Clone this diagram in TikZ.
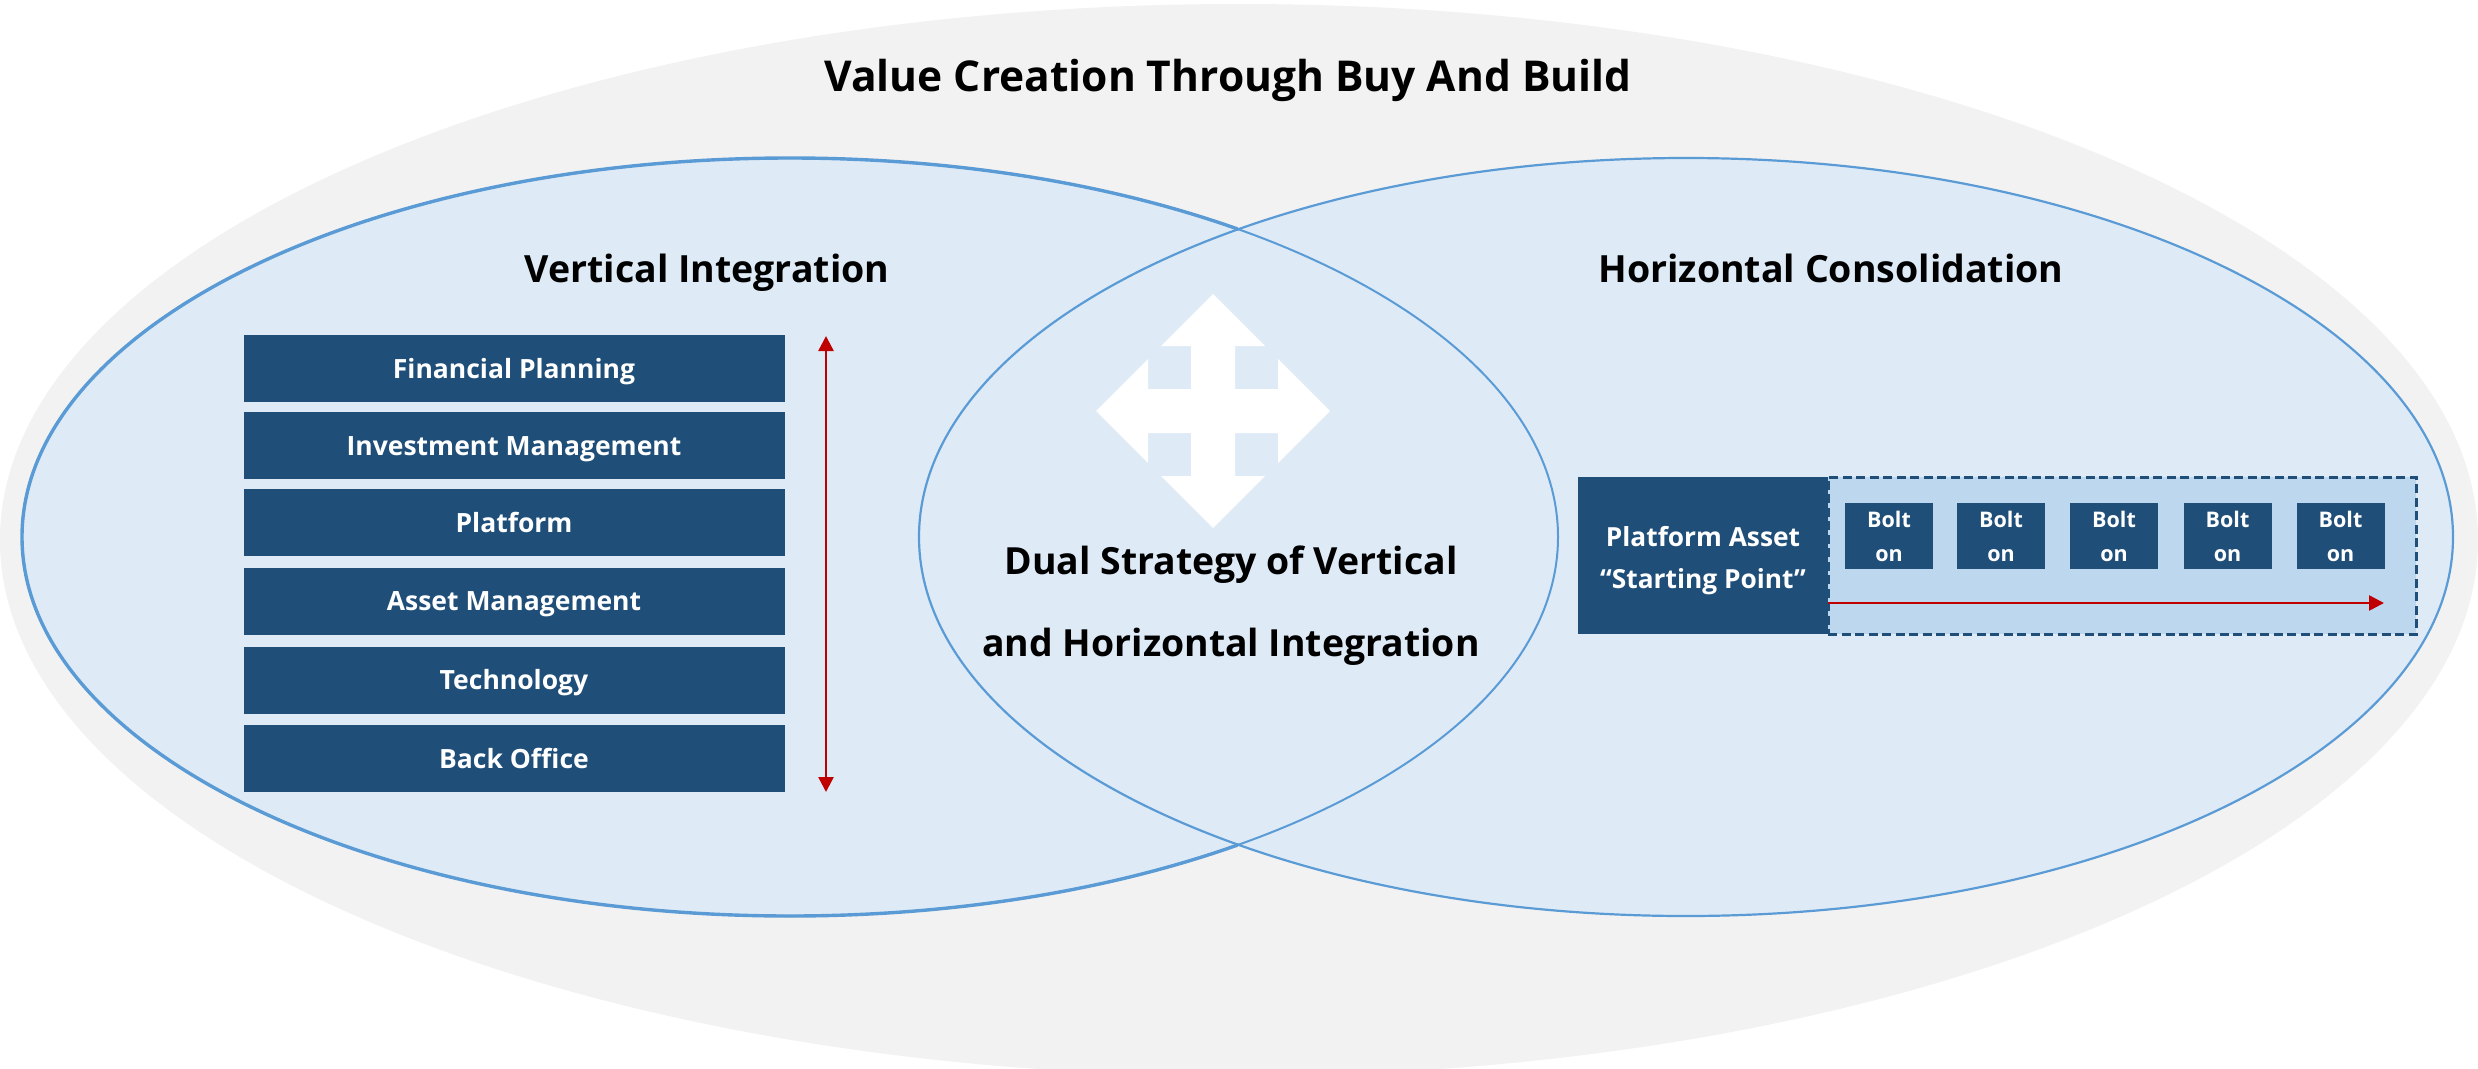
\documentclass[tikz,border=0pt]{standalone}
\usepackage{fontspec}
\setmainfont{Open Sans}
\usetikzlibrary{arrows.meta}

\definecolor{pagegray}{HTML}{F2F2F2}
\definecolor{setfill}{HTML}{DEEBF7}
\definecolor{setline}{HTML}{5B9BD5}
\definecolor{navy}{HTML}{1F4E79}
\definecolor{boltzone}{HTML}{BDD7EE}
\definecolor{arrowred}{HTML}{C00000}

\begin{document}
\begin{tikzpicture}[x=1pt,y=-1pt,
  heading/.style={anchor=base, inner sep=0pt, text=black,
    font=\bfseries\fontsize{37.5}{45}\selectfont},
  layerbox/.style={fill=navy, text=white, inner sep=0pt,
    minimum width=541pt, minimum height=67pt,
    text height=19pt, text depth=0pt,
    font=\bfseries\fontsize{26.5}{32}\selectfont},
  boltbox/.style={fill=navy, text=white, inner sep=0pt, align=center,
    minimum width=88pt, minimum height=66pt,
    font=\bfseries\fontsize{21.5}{34}\selectfont},
  redarrow/.style={draw=arrowred, line width=2.5pt,
    arrows={-Triangle[length=15pt,width=15pt]}},
]
\useasboundingbox (0,0) rectangle (2478,1068);
\fill[white] (0,0) rectangle (2478,1068);

% outer field
\fill[pagegray] (1239,540) ellipse [x radius=1239, y radius=536];

% the two overlapping sets
\fill[setfill] (790,537) ellipse [x radius=768, y radius=379];
\fill[setfill] (1686,537) ellipse [x radius=767, y radius=379];
\draw[setline, line width=2pt] (790,537) ellipse [x radius=768, y radius=379];
\draw[setline, line width=2.2pt] (1686,537) ellipse [x radius=767, y radius=379];
\begin{scope}
  \clip (0,0) rectangle (1238,1068);
  \draw[setline, line width=3.4pt] (790,537) ellipse [x radius=768, y radius=379];
\end{scope}

% titles
\node[heading, font=\bfseries\fontsize{42.5}{52}\selectfont] (title) at (1228,91.5)
  {Value Creation Through Buy And Build};
\node[heading] (vhead) at (707,282) {Vertical Integration};
\node[heading] (hhead) at (1831,282) {Horizontal Consolidation};

% four-way arrow in the overlap
\fill[white] (1213,411) ++(0,-117) -- ++(52,52) -- ++(-30,0) -- ++(0,43)
  -- ++(43,0) -- ++(0,-30) -- ++(52,52) -- ++(-52,52) -- ++(0,-30)
  -- ++(-43,0) -- ++(0,43) -- ++(30,0) -- ++(-52,52) -- ++(-52,-52)
  -- ++(30,0) -- ++(0,-43) -- ++(-43,0) -- ++(0,30) -- ++(-52,-52)
  -- ++(52,-52) -- ++(0,30) -- ++(43,0) -- ++(0,-43) -- ++(-30,0) -- cycle;

\node[inner sep=0pt, align=center, text=black,
  font=\bfseries\fontsize{37.4}{82}\selectfont] (dual) at (1231,606)
  {Dual Strategy of Vertical\\and Horizontal Integration};

% vertical value chain
\node[layerbox] (l1) at (514,368.5) {Financial Planning};
\node[layerbox] (l2) at (514,445.5) {Investment Management};
\node[layerbox] (l3) at (514,522.5) {Platform};
\node[layerbox] (l4) at (514,601) {Asset Management};
\node[layerbox] (l5) at (514,680) {Technology};
\node[layerbox] (l6) at (514,758.5) {Back Office};

\coordinate (vtop) at (826,336);
\coordinate (vbot) at (826,792);
\draw[redarrow, arrows={Triangle[length=15pt,width=15pt]-Triangle[length=15pt,width=15pt]}] (vtop) -- (vbot);

% horizontal roll-up
\node[draw=navy, fill=boltzone, line width=3pt, dash pattern=on 9pt off 4.5pt,
  minimum width=588pt, minimum height=157pt, inner sep=0pt] (zone) at (2122,555.5) {};
\node[fill=navy, minimum width=250pt, minimum height=157pt, inner sep=0pt]
  (platform) at (1703,555.5) {};
\node[text=white, inner sep=0pt, align=center,
  font=\bfseries\fontsize{26.3}{42}\selectfont] (platformtext) at (1703,561)
  {Platform Asset\\“Starting Point”};

\node[boltbox] (b1) at (1889,536) {Bolt\\on};
\node[boltbox] (b2) at (2001,536) {Bolt\\on};
\node[boltbox] (b3) at (2114,536) {Bolt\\on};
\node[boltbox] (b4) at (2227.5,536) {Bolt\\on};
\node[boltbox] (b5) at (2340.5,536) {Bolt\\on};

\coordinate (hstart) at (platform.east |- 0,603);
\coordinate (hend) at (2384,603);
\draw[redarrow] (hstart) -- (hend);
\end{tikzpicture}
\end{document}
